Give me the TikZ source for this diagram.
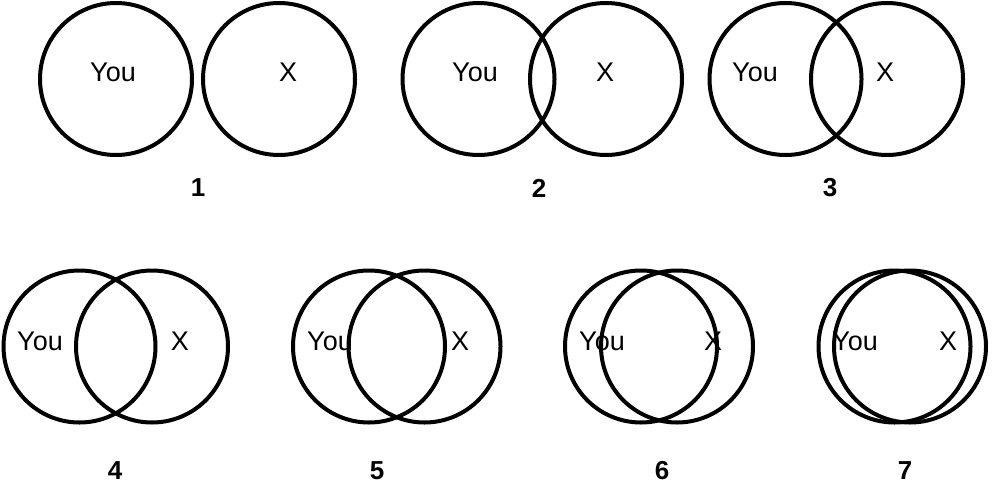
\documentclass[tikz,border=0pt]{standalone}
\usepackage{fontspec}
\setmainfont{Liberation Sans}
\usepackage{tikz}
\usetikzlibrary{positioning}

\tikzset{ring/.style={circle,draw,line width=4pt,minimum size=152pt,inner sep=0pt},
         who/.style={inner sep=0pt,font=\fontsize{27}{32}\selectfont},
         stage/.style={inner sep=0pt,font=\fontsize{26}{31}\selectfont\bfseries}}

\begin{document}
\begin{tikzpicture}[x=1pt,y=-1pt]
    \useasboundingbox (0,0) rectangle (992,487);
    % top row
    \node[ring] (you1) at (116,79) {};
    \node[ring] (x1)   at (279,79) {};
    \node[who] (tyou1) at (113,72) {You};
    \node[who] (tx1)   at (288,72) {X};
    \node[stage] (s1)   at (198,188) {1};

    \node[ring] (you2) at (478.5,79) {};
    \node[ring] (x2)   at (606,79) {};
    \node[who] (tyou2) at (475,72) {You};
    \node[who] (tx2)   at (605,72) {X};
    \node[stage] (s2)   at (539,188) {2};

    \node[ring] (you3) at (785.5,79) {};
    \node[ring] (x3)   at (887,79) {};
    \node[who] (tyou3) at (755,72) {You};
    \node[who] (tx3)   at (885,72) {X};
    \node[stage] (s3)   at (830,188) {3};

    % bottom row
    \node[ring] (you4) at (79.5,346.5) {};
    \node[ring] (x4)   at (152,346.5) {};
    \node[who] (tyou4) at (40,341) {You};
    \node[who] (tx4)   at (180,341) {X};
    \node[stage] (s4)   at (115,471) {4};

    \node[ring] (you5) at (369,346.5) {};
    \node[ring] (x5)   at (424.5,346.5) {};
    \node[who] (tyou5) at (330,341) {You};
    \node[who] (tx5)   at (460,341) {X};
    \node[stage] (s5)   at (377,471) {5};

    \node[ring] (you6) at (641,346.5) {};
    \node[ring] (x6)   at (677,346.5) {};
    \node[who] (tyou6) at (602,341) {You};
    \node[who] (tx6)   at (713,341) {X};
    \node[stage] (s6)   at (662,471) {6};

    \node[ring] (you7) at (894.5,346.5) {};
    \node[ring] (x7)   at (910,346.5) {};
    \node[who] (tyou7) at (855,341) {You};
    \node[who] (tx7)   at (948,341) {X};
    \node[stage] (s7)   at (905,471) {7};
\end{tikzpicture}
\end{document}
